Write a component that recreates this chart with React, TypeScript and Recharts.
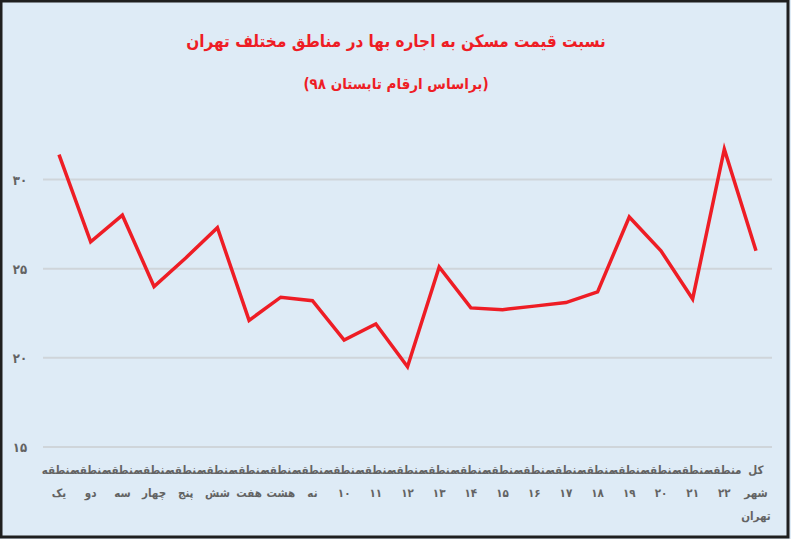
import React from "react";
import { LineChart, Line, XAxis, YAxis, CartesianGrid } from "recharts";

const TITLE = "نسبت قیمت مسکن به اجاره بها در مناطق مختلف تهران";
const SUBTITLE = "(براساس ارقام تابستان ۹۸)";

const districts = [
  "منطقه یک", "منطقه دو", "منطقه سه", "منطقه چهار", "منطقه پنج", "منطقه شش",
  "منطقه هفت", "منطقه هشت", "منطقه نه", "منطقه ۱۰", "منطقه ۱۱", "منطقه ۱۲",
  "منطقه ۱۳", "منطقه ۱۴", "منطقه ۱۵", "منطقه ۱۶", "منطقه ۱۷", "منطقه ۱۸",
  "منطقه ۱۹", "منطقه ۲۰", "منطقه ۲۱", "منطقه ۲۲", "کل شهر تهران",
];

const ratio = [
  31.4, 26.5, 28.0, 24.0, 25.6, 27.3, 22.1, 23.4, 23.2, 21.0, 21.9, 19.5,
  25.1, 22.8, 22.7, 22.9, 23.1, 23.7, 27.9, 26.0, 23.3, 31.7, 26.0,
];

const yTicks = [15, 20, 25, 30];

const data = districts.map((name, i) => ({ name, value: ratio[i] }));

const toFa = (v: number | string) =>
  String(v).replace(/[0-9]/g, (d) => "۰۱۲۳۴۵۶۷۸۹"[Number(d)]);

const BG = "#deebf6";
const RED = "#ee1d25";
const GREY = "#636363";
const FONT = "'DejaVu Sans Condensed', 'DejaVu Sans', sans-serif";

function XTick({ x, y, payload }: any) {
  const words = String(payload.value).split(" ");
  return (
    <g>
      {words.map((w, i) => (
        <text
          key={i}
          x={x}
          y={y + 19 + i * 23}
          textAnchor="middle"
          fill={GREY}
          fontSize={11.5}
          fontWeight="bold"
          fontFamily={FONT}
        >
          {w}
        </text>
      ))}
    </g>
  );
}

function YTick({ y, payload }: any) {
  return (
    <text
      x={20}
      y={y + 5}
      textAnchor="middle"
      fill={GREY}
      fontSize={13}
      fontWeight="bold"
      fontFamily={FONT}
    >
      {toFa(payload.value)}
    </text>
  );
}

export default function App() {
  return (
    <div style={{ position: "absolute", left: 0, top: 0, width: 791, height: 539, background: BG }}>
      <LineChart
        width={791}
        height={539}
        data={data}
        margin={{ top: 126, right: 19, bottom: 0, left: 0 }}
      >
        <CartesianGrid
          vertical={false}
          horizontalValues={yTicks}
          stroke="#cfd5da"
          strokeWidth={2}
        />
        <XAxis
          dataKey="name"
          axisLine={false}
          tickLine={false}
          height={92}
          padding={{ left: 16, right: 16 }}
          interval={0}
          tick={<XTick />}
        />
        <YAxis
          domain={[15, 33]}
          ticks={yTicks}
          axisLine={false}
          tickLine={false}
          width={43}
          tick={<YTick />}
        />
        <Line
          type="linear"
          dataKey="value"
          stroke={RED}
          strokeWidth={3.5}
          dot={false}
          isAnimationActive={false}
        />
      </LineChart>
      <svg
        width={791}
        height={539}
        style={{ position: "absolute", left: 0, top: 0, pointerEvents: "none" }}
      >
        <text
          x={396}
          y={47}
          textAnchor="middle"
          fontSize={17}
          fontWeight="bold"
          fontFamily={FONT}
          fill={RED}
          direction="rtl"
        >
          {TITLE}
        </text>
        <text
          x={396}
          y={89}
          textAnchor="middle"
          fontSize={15}
          fontWeight="bold"
          fontFamily={FONT}
          fill={RED}
          direction="rtl"
        >
          {SUBTITLE}
        </text>
        <rect x={1} y={1} width={787} height={536} fill="none" stroke="#1f1f1f" strokeWidth={3} />
      </svg>
    </div>
  );
}
